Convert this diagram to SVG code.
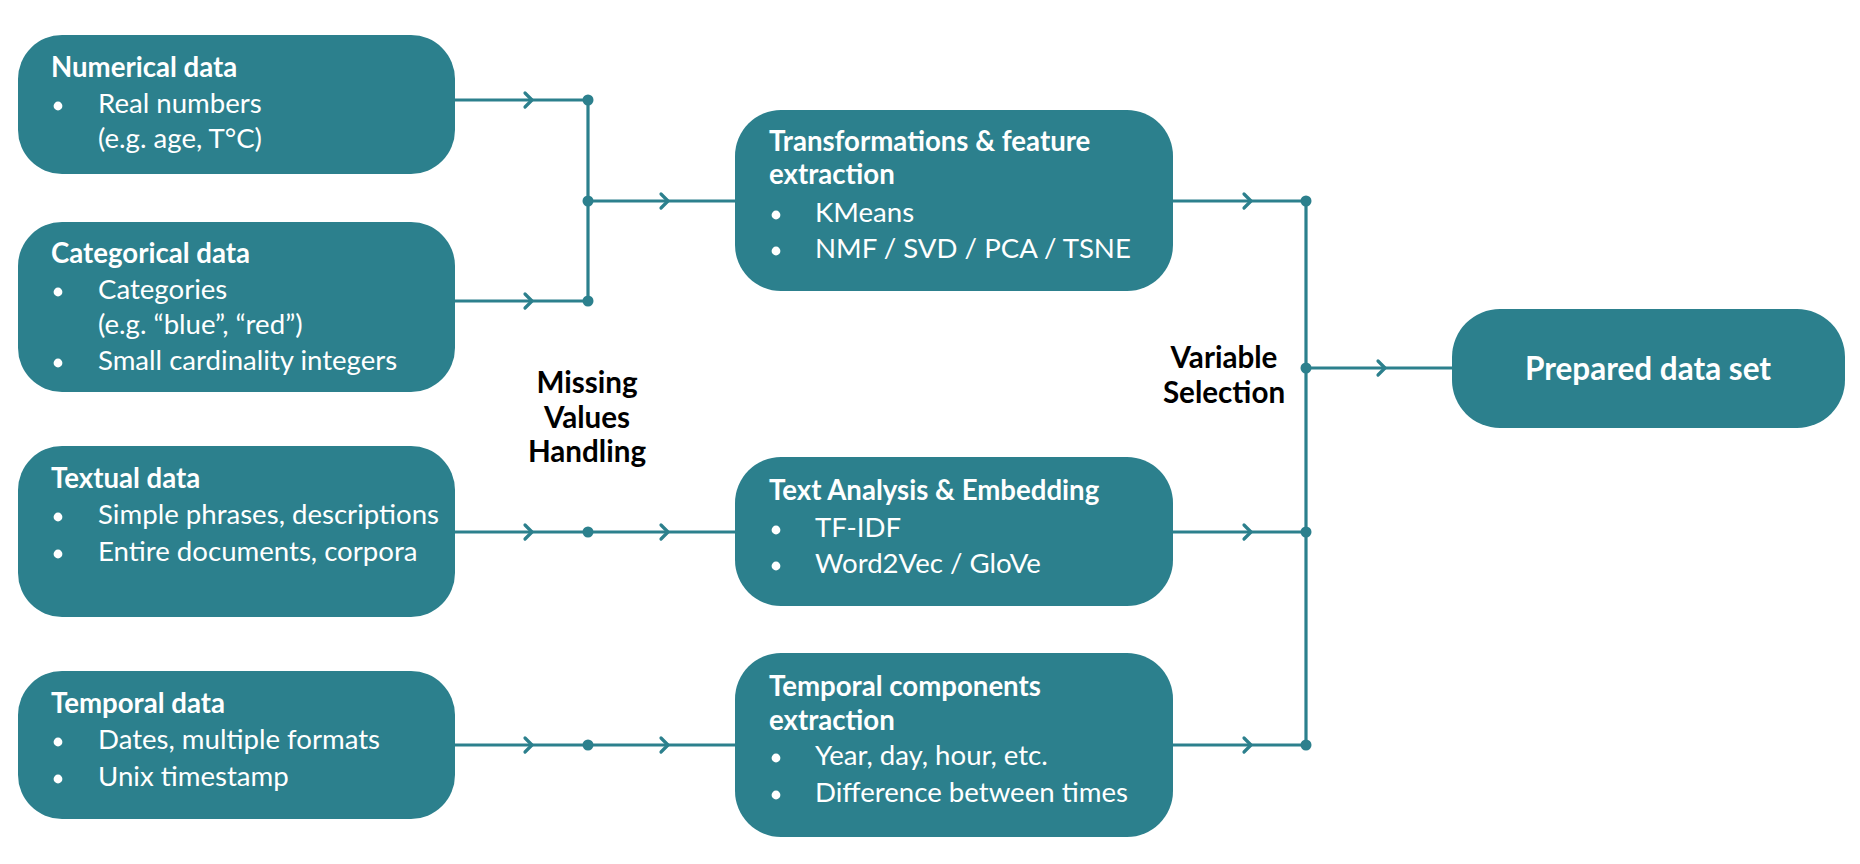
<svg xmlns="http://www.w3.org/2000/svg" xmlns:xlink="http://www.w3.org/1999/xlink" width="1860" height="864" viewBox="0 0 1860 864">
<style>
.box{fill:#2c808d}
.t{font-family:Lato,"Open Sans","Liberation Sans",sans-serif;fill:#ffffff;font-size:27.6px}
.b{font-weight:bold}
.lbl{font-family:Lato,"Open Sans","Liberation Sans",sans-serif;fill:#000000;font-size:29.6px;font-weight:bold;text-anchor:middle}
.ln{stroke:#2c808d;stroke-width:3.2;fill:none}
.dot{fill:#2c808d}
.bul{fill:#ffffff}
</style>
<defs>
<path id="chev" d="M-7,-7 L0,0 L-7,7" stroke="#2c808d" stroke-width="3.2" fill="none" stroke-linecap="round" stroke-linejoin="round"/>
</defs>
<rect width="1860" height="864" fill="#ffffff"/>

<g id="connectors">
  <path class="ln" d="M455,100 H588 M455,301 H588 M588,100 V301 M588,201 H735"/>
  <path class="ln" d="M455,532 H735 M455,745 H735"/>
  <path class="ln" d="M1173,201 H1306 M1173,532 H1306 M1173,745 H1306 M1306,201 V745 M1306,368 H1452"/>
  <use xlink:href="#chev" x="532" y="100"/>
  <use xlink:href="#chev" x="532" y="301"/>
  <use xlink:href="#chev" x="668" y="201"/>
  <use xlink:href="#chev" x="532" y="532"/>
  <use xlink:href="#chev" x="668" y="532"/>
  <use xlink:href="#chev" x="532" y="745"/>
  <use xlink:href="#chev" x="668" y="745"/>
  <use xlink:href="#chev" x="1251" y="201"/>
  <use xlink:href="#chev" x="1251" y="532"/>
  <use xlink:href="#chev" x="1251" y="745"/>
  <use xlink:href="#chev" x="1385" y="368"/>
  <circle class="dot" cx="588" cy="100" r="5.5"/>
  <circle class="dot" cx="588" cy="201" r="5.5"/>
  <circle class="dot" cx="588" cy="301" r="5.5"/>
  <circle class="dot" cx="588" cy="532" r="5.5"/>
  <circle class="dot" cx="588" cy="745" r="5.5"/>
  <circle class="dot" cx="1306" cy="201" r="5.5"/>
  <circle class="dot" cx="1306" cy="368" r="5.5"/>
  <circle class="dot" cx="1306" cy="532" r="5.5"/>
  <circle class="dot" cx="1306" cy="745" r="5.5"/>
</g>

<g id="numerical">
  <rect class="box" x="18" y="35" width="437" height="139" rx="44" ry="44"/>
  <text class="t b" x="51" y="77">Numerical data</text>
  <circle class="bul" cx="58" cy="106" r="4.4"/>
  <text class="t" x="98" y="113">Real numbers</text>
  <text class="t" x="98" y="148">(e.g. age, T°C)</text>
</g>

<g id="categorical">
  <rect class="box" x="18" y="222" width="437" height="170" rx="44" ry="44"/>
  <text class="t b" x="51" y="263">Categorical data</text>
  <circle class="bul" cx="58" cy="292" r="4.4"/>
  <text class="t" x="98" y="299">Categories</text>
  <text class="t" x="98" y="334">(e.g. “blue”, “red”)</text>
  <circle class="bul" cx="58" cy="363" r="4.4"/>
  <text class="t" x="98" y="370">Small cardinality integers</text>
</g>

<g id="textual">
  <rect class="box" x="18" y="446" width="437" height="171" rx="44" ry="44"/>
  <text class="t b" x="51" y="488">Textual data</text>
  <circle class="bul" cx="58" cy="517" r="4.4"/>
  <text class="t" x="98" y="524">Simple phrases, descriptions</text>
  <circle class="bul" cx="58" cy="554" r="4.4"/>
  <text class="t" x="98" y="561">Entire documents, corpora</text>
</g>

<g id="temporal">
  <rect class="box" x="18" y="671" width="437" height="148" rx="44" ry="44"/>
  <text class="t b" x="51" y="713">Temporal data</text>
  <circle class="bul" cx="58" cy="742" r="4.4"/>
  <text class="t" x="98" y="749">Dates, multiple formats</text>
  <circle class="bul" cx="58" cy="779" r="4.4"/>
  <text class="t" x="98" y="786">Unix timestamp</text>
</g>

<g id="missing-label">
  <text class="lbl" x="587" y="393">Missing</text>
  <text class="lbl" x="587" y="428">Values</text>
  <text class="lbl" x="587" y="462">Handling</text>
</g>

<g id="transformations">
  <rect class="box" x="735" y="110" width="438" height="181" rx="46" ry="46"/>
  <text class="t b" x="769" y="151">Transformations &amp; feature</text>
  <text class="t b" x="769" y="184">extraction</text>
  <circle class="bul" cx="776" cy="215" r="4.4"/>
  <text class="t" x="815" y="222">KMeans</text>
  <circle class="bul" cx="776" cy="251" r="4.4"/>
  <text class="t" x="815" y="258">NMF / SVD / PCA / TSNE</text>
</g>

<g id="text-analysis">
  <rect class="box" x="735" y="457" width="438" height="149" rx="46" ry="46"/>
  <text class="t b" x="769" y="500">Text Analysis &amp; Embedding</text>
  <circle class="bul" cx="776" cy="530" r="4.4"/>
  <text class="t" x="815" y="537">TF-IDF</text>
  <circle class="bul" cx="776" cy="566" r="4.4"/>
  <text class="t" x="815" y="573">Word2Vec / GloVe</text>
</g>

<g id="temporal-components">
  <rect class="box" x="735" y="653" width="438" height="184" rx="46" ry="46"/>
  <text class="t b" x="769" y="696">Temporal components</text>
  <text class="t b" x="769" y="730">extraction</text>
  <circle class="bul" cx="776" cy="758" r="4.4"/>
  <text class="t" x="815" y="765">Year, day, hour, etc.</text>
  <circle class="bul" cx="776" cy="795" r="4.4"/>
  <text class="t" x="815" y="802">Difference between times</text>
</g>

<g id="variable-label">
  <text class="lbl" x="1224" y="368">Variable</text>
  <text class="lbl" x="1224" y="403">Selection</text>
</g>

<g id="prepared">
  <rect class="box" x="1452" y="309" width="393" height="119" rx="48" ry="48"/>
  <text class="t b" x="1648" y="380" text-anchor="middle" style="font-size:31.5px">Prepared data set</text>
</g>
</svg>
